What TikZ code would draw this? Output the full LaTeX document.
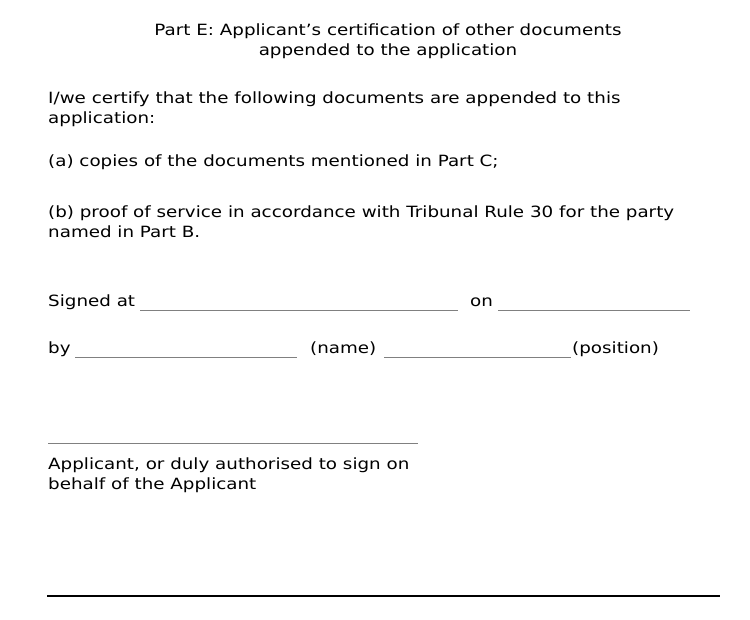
\documentclass[tikz,border=0pt]{standalone}
\usepackage{fontspec}
\setmainfont[FakeStretch=1.18]{DejaVu Sans}
\begin{document}
\begin{tikzpicture}[x=1pt,y=-1pt,
  txt/.style={anchor=base west, inner sep=0pt, font=\fontsize{15.5}{20}\selectfont},
  blank/.style={gray, line width=0.6pt}]
\useasboundingbox (0,0) rectangle (750,619);

% Heading (base anchor sits on the last line)
\node[txt, anchor=base, align=center] (head) at (388,55) {Part E: Applicant's certification of other documents\\appended to the application};

% Body
\node[txt, align=left] (cert) at (48,123) {I/we certify that the following documents are appended to this\\application:};
\node[txt] (itema) at (48,166) {(a) copies of the documents mentioned in Part C;};
\node[txt, align=left] (itemb) at (48,237) {(b) proof of service in accordance with Tribunal Rule 30 for the party\\named in Part B.};

% Signed at ... on ...
\node[txt] (signed) at (48,306) {Signed at};
\node[txt] (on) at (470,306) {on};
\coordinate (place1) at (140,310); \coordinate (place2) at (458,310);
\coordinate (date1) at (498,310); \coordinate (date2) at (690,310);
\draw[blank] (place1) -- (place2);
\draw[blank] (date1) -- (date2);

% by ... (name) ... (position)
\node[txt] (by) at (48,353) {by};
\node[txt] (name) at (310,353) {(name)};
\node[txt] (position) at (572,353) {(position)};
\coordinate (nm1) at (75,357); \coordinate (nm2) at (297,357);
\coordinate (ps1) at (384,357); \coordinate (ps2) at (571,357);
\draw[blank] (nm1) -- (nm2);
\draw[blank] (ps1) -- (ps2);

% Signature
\coordinate (sig1) at (48,443); \coordinate (sig2) at (418,443);
\draw[blank] (sig1) -- (sig2);
\node[txt, align=left] (applicant) at (48,489) {Applicant, or duly authorised to sign on\\behalf of the Applicant};

% Bottom rule
\coordinate (rule1) at (47,596); \coordinate (rule2) at (720,596);
\draw[line width=2pt] (rule1) -- (rule2);
\end{tikzpicture}
\end{document}
